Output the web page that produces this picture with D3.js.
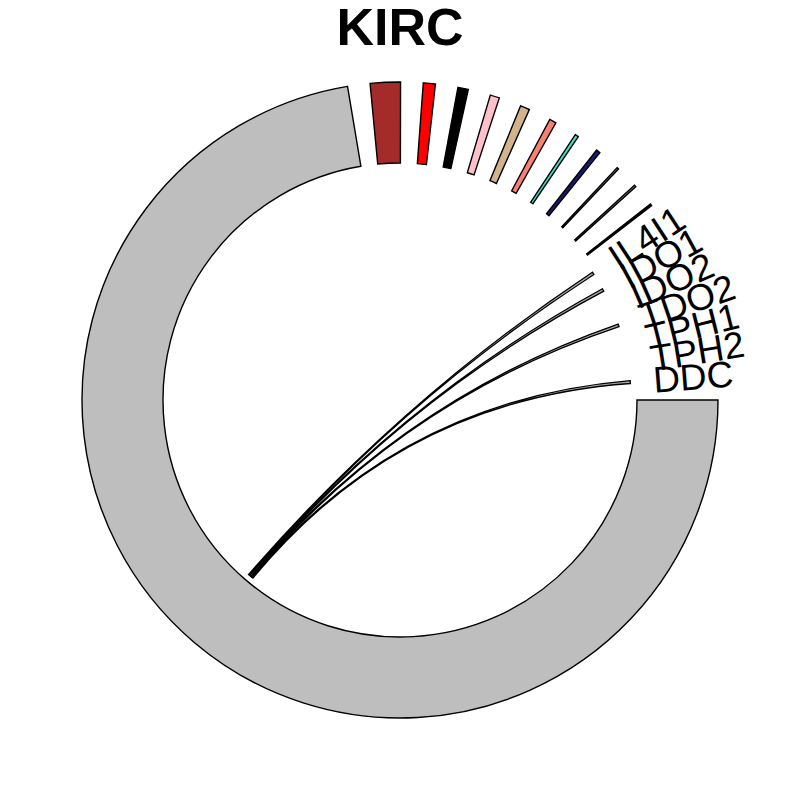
<!DOCTYPE html>
<html>
<head>
<meta charset="utf-8">
<script src="https://cdn.jsdelivr.net/npm/d3@7"></script>
<style>
  html, body { margin: 0; padding: 0; background: #ffffff; }
  svg { display: block; }
</style>
</head>
<body>
<svg id="chart" width="800" height="800"></svg>
<script>
// ---------------- data ----------------
const chartTitle = "KIRC";

// sectors in clockwise order starting at 3 o'clock
const sectorNames = [
  "Other", "Group1", "Group2", "Group3", "Group4", "Group5", "Group6", "Group7", "Group8",
  "Group9", "Group10", "Group11",
  "IL4I1", "IDO1", "IDO2", "TDO2", "TPH1", "TPH2", "DDC"
];
// relative sector sizes
const sectorValues = [
  260.5, 5.5, 2.2, 1.9, 1.7, 1.7, 1.25, 0.65, 0.75,
  0.35, 0.35, 0.35,
  0.7, 0.7, 0.7, 0.7, 0.7, 0.7, 0.7
];
const sectorColors = [
  "#bebebe", "#a52a2a", "#ff0000", "#000000", "#ffc0cb", "#d2b48c", "#fa8072", "#40e0d0", "#191970",
  "#666666", "#bebebe", "#000000",
  null, null, null, null, null, null, null
];
// gene sectors (labelled, no ring drawn)
const geneNames = ["IL4I1", "IDO1", "IDO2", "TDO2", "TPH1", "TPH2", "DDC"];

// links (source side value; target side fills the gene sector)
const linkSources = ["Other", "Other", "Other", "Other"];
const linkTargets = ["DDC", "TDO2", "IDO1", "IL4I1"];
const linkValues  = [0.35, 0.35, 0.35, 0.35];

// ---------------- layout ----------------
const svg = d3.select("#chart");
const cx = 400, cy = 400;
const outerR = 318, innerR = 237, linkR = 231, labelR = 254;

const total = d3.sum(sectorValues);
const gap = (360 - total) / sectorValues.length; // degrees between sectors
const startDeg = 0;

const degScale = d3.scaleLinear().domain([0, 1]).range([0, 1]);
// clockwise-from-east degrees -> d3 angle (radians, 0 at 12 o'clock, clockwise)
const toD3 = d => (d + 90) * Math.PI / 180;

const sectors = [];
let cursor = startDeg;
sectorNames.forEach((name, i) => {
  const s = cursor;
  const e = cursor + degScale(sectorValues[i]);
  sectors.push({ name, value: sectorValues[i], color: sectorColors[i], start: s, end: e, mid: (s + e) / 2 });
  cursor = e + gap;
});
const byName = new Map(sectors.map(s => [s.name, s]));

const g = svg.append("g").attr("transform", `translate(${cx},${cy})`);

// ring sectors
const arc = d3.arc().innerRadius(innerR).outerRadius(outerR);
g.selectAll("path.sector")
  .data(sectors.filter(s => s.color !== null))
  .join("path")
  .attr("class", "sector")
  .attr("d", d => arc({ startAngle: toD3(d.start), endAngle: toD3(d.end) }))
  .attr("fill", d => d.color)
  .attr("stroke", "#000")
  .attr("stroke-width", 1.4)
  .attr("stroke-linejoin", "miter");

// links: stacked around the middle of the source sector
const srcUsage = new Map();
linkSources.forEach((s, i) => srcUsage.set(s, (srcUsage.get(s) || 0) + linkValues[i]));
const srcCursor = new Map();
const ribbonsData = linkSources.map((sName, i) => {
  const src = byName.get(sName);
  const tgt = byName.get(linkTargets[i]);
  const w = degScale(linkValues[i]);
  if (!srcCursor.has(sName)) srcCursor.set(sName, src.mid - degScale(srcUsage.get(sName)) / 2);
  const s0 = srcCursor.get(sName);
  srcCursor.set(sName, s0 + w);
  return {
    source: { startAngle: toD3(s0), endAngle: toD3(s0 + w) },
    target: { startAngle: toD3(tgt.start), endAngle: toD3(tgt.end) }
  };
});

const ribbon = d3.ribbon().radius(linkR);
g.selectAll("path.link")
  .data(ribbonsData)
  .join("path")
  .attr("class", "link")
  .attr("d", ribbon)
  .attr("fill", "#a8a8a8")
  .attr("stroke", "#000")
  .attr("stroke-width", 1.3);

// gene labels, radial, reading outward
g.selectAll("text.gene")
  .data(sectors.filter(s => geneNames.includes(s.name)))
  .join("text")
  .attr("class", "gene")
  .attr("transform", d => `rotate(${d.mid}) translate(${labelR},0)`)
  .attr("text-anchor", "start")
  .attr("dominant-baseline", "central")
  .attr("font-family", "'Liberation Sans', Arial, Helvetica, sans-serif")
  .attr("font-size", 37)
  .attr("fill", "#000")
  .text(d => d.name);

// title
svg.append("text")
  .attr("x", 400)
  .attr("y", 45)
  .attr("text-anchor", "middle")
  .attr("font-family", "'Liberation Sans', Arial, Helvetica, sans-serif")
  .attr("font-weight", "bold")
  .attr("font-size", 52)
  .attr("fill", "#000")
  .text(chartTitle);
</script>
</body>
</html>
